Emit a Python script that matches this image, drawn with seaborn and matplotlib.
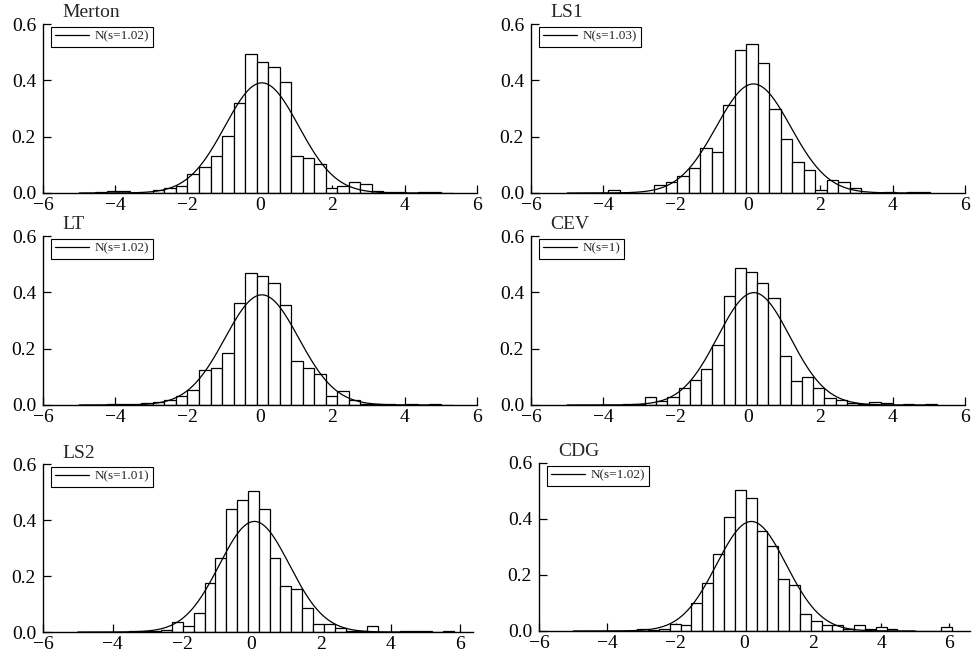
import matplotlib
matplotlib.use("Agg")
import matplotlib.pyplot as plt
import numpy as np
import pandas as pd
import seaborn as sns

sns.set_theme(style="ticks")
plt.rcParams["font.family"] = ["Liberation Serif", "DejaVu Serif"]

# Panel names and fitted normal parameters
names = ["Merton", "LS1", "LT", "CEV", "LS2", "CDG"]
fit_mean = [0.05, 0.15, 0.05, 0.16, 0.08, 0.21]
fit_sd = [1.02, 1.03, 1.02, 1.0, 1.01, 1.02]
fit_labels = ["N(s=1.02)", "N(s=1.03)", "N(s=1.02)", "N(s=1)", "N(s=1.01)", "N(s=1.02)"]

# Histogram bins: first edge, bin width, and bar heights (density)
bin_start = [-4.874, -4.502, -4.874, -4.088, -3.85, -4.077]
bin_width = [0.3186, 0.318, 0.3186, 0.31, 0.312, 0.317]

merton_heights = [0.0, 0.002, 0.006, 0.006, 0.0, 0.0, 0.012, 0.018, 0.026, 0.066,
                  0.092, 0.13, 0.204, 0.321, 0.492, 0.466, 0.446, 0.393, 0.132, 0.125,
                  0.104, 0.019, 0.026, 0.040, 0.033, 0.006, 0.002, 0.004, 0.0, 0.005,
                  0.002, 0.0]
ls1_heights = [0.0, 0.0, 0.012, 0.0, 0.0, 0.0, 0.027, 0.039, 0.059, 0.090,
               0.158, 0.144, 0.314, 0.508, 0.528, 0.463, 0.300, 0.19, 0.110, 0.083,
               0.012, 0.045, 0.039, 0.019, 0.0, 0.0, 0.004, 0.0, 0.005, 0.005]
lt_heights = [0.0, 0.0, 0.003, 0.005, 0.002, 0.006, 0.012, 0.018, 0.033, 0.052,
              0.124, 0.131, 0.183, 0.361, 0.467, 0.459, 0.434, 0.355, 0.157, 0.133,
              0.111, 0.033, 0.051, 0.018, 0.005, 0.003, 0.004, 0.0, 0.004, 0.0,
              0.004, 0.0]
cev_heights = [0.0, 0.0, 0.005, 0.003, 0.027, 0.014, 0.027, 0.059, 0.088, 0.127,
               0.213, 0.387, 0.488, 0.473, 0.434, 0.381, 0.174, 0.086, 0.101, 0.059,
               0.026, 0.018, 0.006, 0.004, 0.012, 0.006, 0.0, 0.004, 0.0, 0.004]
ls2_heights = [0.0, 0.002, 0.004, 0.005, 0.008, 0.034, 0.020, 0.068, 0.175, 0.266,
               0.439, 0.472, 0.505, 0.439, 0.266, 0.166, 0.155, 0.086, 0.029, 0.029,
               0.014, 0.005, 0.003, 0.020, 0.0, 0.0, 0.005, 0.005, 0.005, 0.0,
               0.005]
cdg_heights = [0.0, 0.0, 0.0, 0.006, 0.003, 0.008, 0.026, 0.023, 0.1, 0.171,
               0.276, 0.407, 0.502, 0.476, 0.357, 0.302, 0.187, 0.165, 0.062, 0.035,
               0.020, 0.020, 0.007, 0.020, 0.006, 0.014, 0.007, 0.0, 0.0, 0.0,
               0.0, 0.014]
all_heights = [merton_heights, ls1_heights, lt_heights, cev_heights, ls2_heights, cdg_heights]

x_max = [6.0, 6.0, 6.0, 6.0, 6.37, 6.6]

fig = plt.figure(figsize=(9.76, 6.6), dpi=100)
positions = [
    [0.0441, 0.7076, 0.4447, 0.256],
    [0.5441, 0.7076, 0.4447, 0.256],
    [0.0441, 0.3864, 0.4447, 0.256],
    [0.5441, 0.3864, 0.4447, 0.256],
    [0.0441, 0.0424, 0.4406, 0.2545],
    [0.5522, 0.0440, 0.4416, 0.2545],
]

for k, name in enumerate(names):
    ax = fig.add_axes(positions[k])
    heights = all_heights[k]
    edges = [bin_start[k] + bin_width[k] * i for i in range(len(heights) + 1)]
    bars = pd.DataFrame({
        "center": [(edges[i] + edges[i + 1]) / 2 for i in range(len(heights))],
        "density": heights,
    })
    sns.histplot(data=bars, x="center", weights="density", bins=edges, stat="count",
                 color="white", edgecolor="black", linewidth=0.9, alpha=1, ax=ax)

    xs = np.linspace(-5, 5, 500)
    ys = np.exp(-0.5 * ((xs - fit_mean[k]) / fit_sd[k]) ** 2) / (fit_sd[k] * np.sqrt(2 * np.pi))
    sns.lineplot(x=xs, y=ys, color="black", linewidth=0.9, label=fit_labels[k], ax=ax)

    ax.set_xlim(-6, x_max[k])
    ax.set_ylim(0, 0.6)
    ax.set_xticks([-6, -4, -2, 0, 2, 4, 6])
    ax.set_yticks([0.0, 0.2, 0.4, 0.6])
    ax.set_yticklabels(["0.0", "0.2", "0.4", "0.6"])
    ax.set_xlabel("")
    ax.set_ylabel("")
    sns.despine(ax=ax)
    for side in ["left", "bottom"]:
        ax.spines[side].set_color("black")
        ax.spines[side].set_linewidth(1.0)
    ax.tick_params(direction="in", length=6, width=0.9, colors="black",
                   labelsize=14, pad=3)
    ax.tick_params(axis="y", pad=5)

    ax.text(0.045, 1.015, name, transform=ax.transAxes, ha="left", va="bottom",
            fontsize=14)
    leg = ax.legend(loc="upper left", bbox_to_anchor=(0.018, 0.985), borderaxespad=0,
                    fontsize=9.5, frameon=True, fancybox=False, framealpha=1,
                    edgecolor="black", handlelength=2.6, borderpad=0.3,
                    handletextpad=0.4)
    leg.get_frame().set_linewidth(0.8)

fig.savefig("out.png", dpi=100)
